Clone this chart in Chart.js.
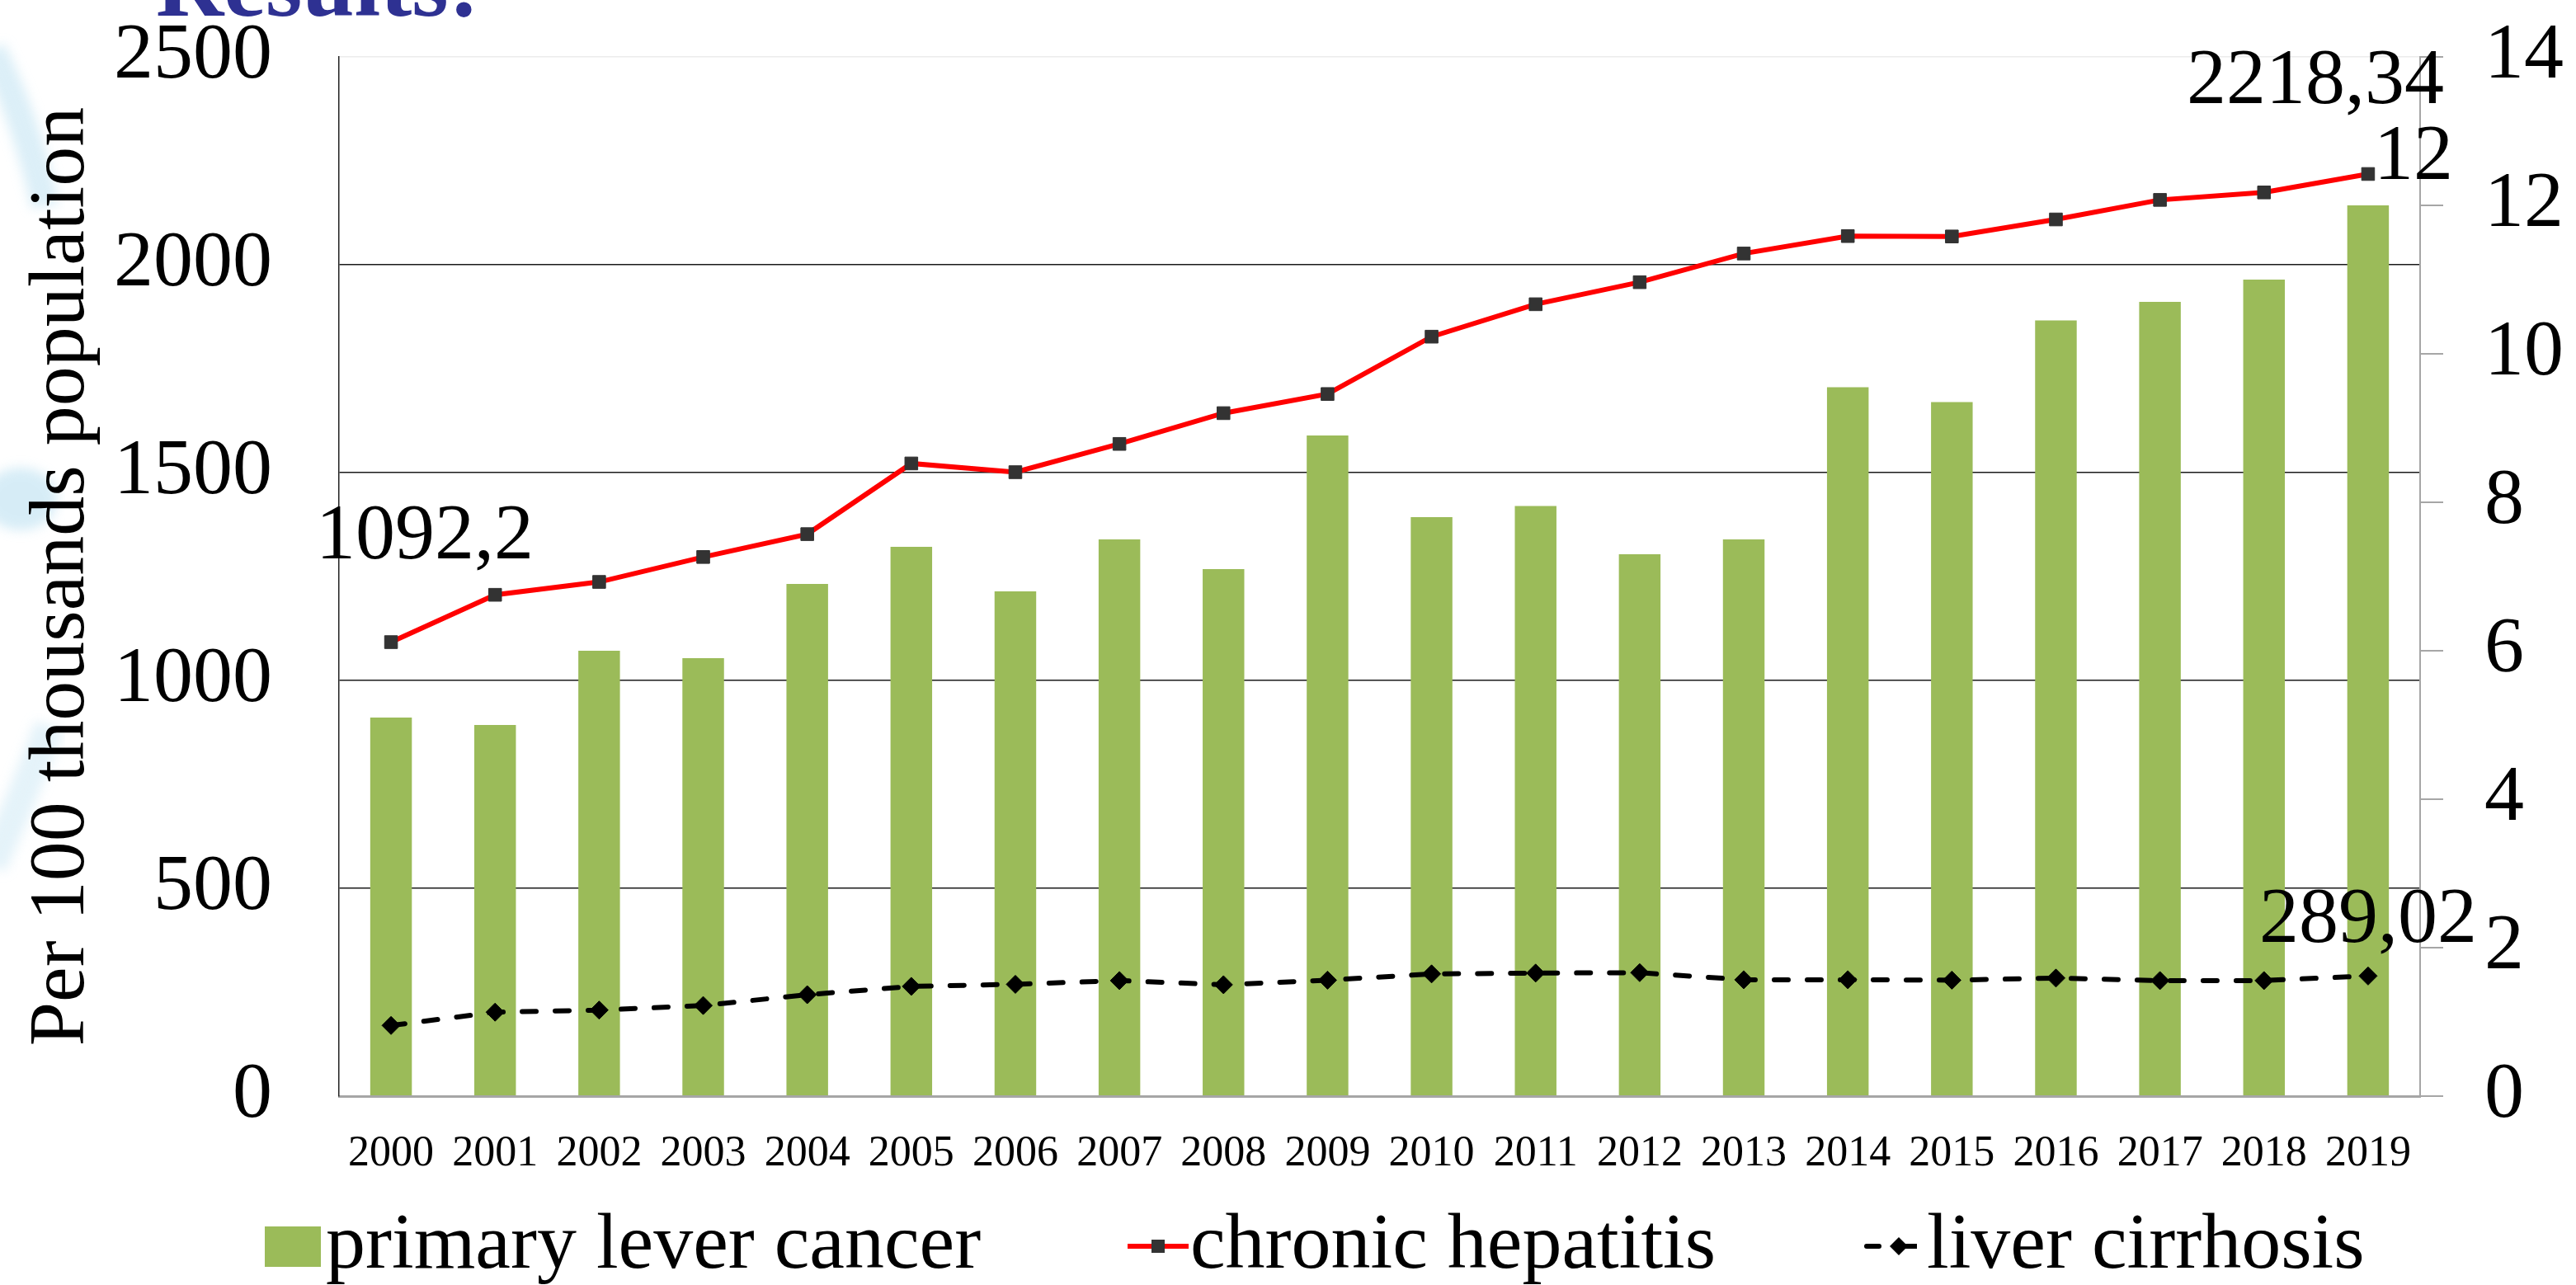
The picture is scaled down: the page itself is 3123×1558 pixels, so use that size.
<!DOCTYPE html>
<html>
<head>
<meta charset="utf-8">
<title>Results</title>
<script src="https://cdn.jsdelivr.net/npm/chart.js@4.4.1/dist/chart.umd.min.js"></script>
<style>
  html, body { margin:0; padding:0; background:#fff; overflow:hidden; }
  #wrap { position:relative; width:3123px; height:1558px; font-family:'Liberation Serif','Times New Roman',serif; }
  #chart { position:absolute; left:0; top:0; }
  .swoosh { position:absolute; left:0; top:0; }
  .heading { position:absolute; left:189px; top:-76px; font-size:114px; line-height:1; font-weight:bold; color:#2E3192; white-space:nowrap; }
  .lg { position:absolute; top:1457px; font-size:96px; line-height:1; color:#000; white-space:nowrap; }
  .ico { position:absolute; }
</style>
</head>
<body>
<div id="wrap">
  <svg class="swoosh" width="200" height="1200">
    <defs><filter id="bl"><feGaussianBlur stdDeviation="7"/></filter></defs>
    <g filter="url(#bl)" opacity="0.55">
      <path d="M-10 60 Q 30 140 55 250" stroke="#bfe2f2" stroke-width="34" fill="none"/>
      <ellipse cx="25" cy="605" rx="45" ry="38" fill="#b6def0"/>
      <path d="M-10 1050 Q 30 960 60 880" stroke="#cfe9f5" stroke-width="36" fill="none"/>
    </g>
  </svg>
  <canvas id="chart" width="3123" height="1558"></canvas>
  <div class="heading">Results:</div>

  <svg class="ico" style="left:321px;top:1487px" width="68" height="49"><rect width="68" height="49" fill="#9BBB59"/></svg>
  <div class="lg" style="left:395px">primary lever cancer</div>

  <svg class="ico" style="left:1367px;top:1495px" width="74" height="32">
    <line x1="0" y1="16" x2="74" y2="16" stroke="#FF0000" stroke-width="6"/>
    <rect x="29" y="8" width="16" height="16" fill="#333"/>
  </svg>
  <div class="lg" style="left:1443px">chronic hepatitis</div>

  <svg class="ico" style="left:2260px;top:1495px" width="66" height="32">
    <line x1="3" y1="16" x2="18" y2="16" stroke="#000" stroke-width="6" stroke-linecap="round"/>
    <line x1="40" y1="16" x2="64" y2="16" stroke="#000" stroke-width="6"/>
    <polygon points="42,5 53,16 42,27 31,16" fill="#000"/>
  </svg>
  <div class="lg" style="left:2336px">liver cirrhosis</div>
</div>
<script>
// chart data
const years = ['2000','2001','2002','2003','2004','2005','2006','2007','2008','2009',
               '2010','2011','2012','2013','2014','2015','2016','2017','2018','2019'];
const cancerRate = [5.1, 5.0, 6.0, 5.9, 6.9, 7.4, 6.8, 7.5, 7.1, 8.9,
                    7.8, 7.95, 7.3, 7.5, 9.55, 9.35, 10.45, 10.7, 11.0, 12];
const hepatitis = [1092.2, 1206, 1237, 1297, 1352, 1522, 1501, 1569, 1643, 1689,
                   1827, 1905, 1958, 2027, 2069, 2068, 2109, 2156, 2174, 2218.34];
const cirrhosis = [170, 202, 207, 218, 244, 264, 269, 278, 268, 279,
                   294, 296, 297, 280, 280, 279, 284, 278, 278, 289.02];
const leftTicks = [0, 500, 1000, 1500, 2000, 2500];
const rightTicks = [0, 2, 4, 6, 8, 10, 12, 14];

const serif = "'Liberation Serif','Times New Roman',serif";
const fmt = v => String(v).replace('.', ',');

// which points get a value label, and where it sits relative to the point
const valueLabels = [
  {ds: 1, i: 0,  align: 'center', dx: 41,  dy: -102},
  {ds: 1, i: 19, align: 'center', dx: -64, dy: -86},
  {ds: 0, i: 19, align: 'left',   dx: 7,   dy: -32},
  {ds: 2, i: 19, align: 'center', dx: 0,   dy: -41}
];

const labelPlugin = {
  id: 'valueLabels',
  afterDatasetsDraw(chart){
    const ctx = chart.ctx;
    ctx.save();
    ctx.font = '96px ' + serif;
    ctx.fillStyle = '#000';
    ctx.textBaseline = 'alphabetic';
    valueLabels.forEach(l=>{
      const el = chart.getDatasetMeta(l.ds).data[l.i];
      const v = chart.data.datasets[l.ds].data[l.i];
      ctx.textAlign = l.align;
      ctx.fillText(fmt(v), el.x + l.dx, el.y + l.dy);
    });
    ctx.restore();
  }
};

const ctx = document.getElementById('chart').getContext('2d');
new Chart(ctx, {
  type: 'bar',
  data: {
    labels: years,
    datasets: [
      {type:'bar', label:'primary lever cancer', data:cancerRate, yAxisID:'y1', order:3,
       backgroundColor:'#9BBB59', borderWidth:0, barPercentage:0.4, categoryPercentage:1},
      {type:'line', label:'chronic hepatitis', data:hepatitis, yAxisID:'y', order:2,
       borderColor:'#FF0000', borderWidth:6, tension:0, fill:false,
       pointStyle:'rect', pointRadius:11, pointBackgroundColor:'#333', pointBorderColor:'#333', pointBorderWidth:1},
      {type:'line', label:'liver cirrhosis', data:cirrhosis, yAxisID:'y', order:1,
       borderColor:'#000', borderWidth:6, borderDash:[17,23], borderCapStyle:'round', tension:0, fill:false,
       pointStyle:'rectRot', pointRadius:11, pointBackgroundColor:'#000', pointBorderColor:'#000', pointBorderWidth:1}
    ]
  },
  options: {
    responsive:false, animation:false, devicePixelRatio:1,
    layout:{ padding:{top:69, left:0, right:0, bottom:0} },
    plugins:{ legend:{display:false}, tooltip:{enabled:false} },
    scales:{
      x:{
        offset:true,
        grid:{display:false},
        border:{display:true, color:'#A6A6A6', width:3},
        ticks:{font:{family:serif, size:52}, color:'#000', padding:31, maxRotation:0, autoSkip:false},
        afterFit(s){ s.height = 229; }
      },
      y:{
        position:'left', min:0, max:2500,
        afterBuildTicks(s){ s.ticks = leftTicks.map(v=>({value:v})); },
        grid:{drawTicks:false, lineWidth:1.5,
              color:c=> c.tick.value === 0 ? 'rgba(0,0,0,0)' : (c.tick.value === 2500 ? '#ececec' : '#1a1a1a')},
        border:{display:true, color:'#222', width:1.5},
        ticks:{font:{family:serif, size:96}, color:'#000', padding:81, callback:v=>String(v)},
        title:{display:true, text:'Per 100 thousands population', font:{family:serif, size:96}, color:'#000', padding:{top:18, bottom:0}},
        afterFit(s){ s.width = 411; s.paddingTop = 0; s.paddingBottom = 0; }
      },
      y1:{
        position:'right', min:0, max:14,
        afterBuildTicks(s){ s.ticks = rightTicks.map(v=>({value:v})); },
        grid:{drawOnChartArea:false, drawTicks:true, tickLength:28, color:'#A6A6A6', lineWidth:2},
        border:{display:true, color:'#A6A6A6', width:2},
        ticks:{font:{family:serif, size:96}, color:'#000', padding:50, callback:v=>String(v)},
        afterFit(s){ s.width = 189; s.paddingTop = 0; s.paddingBottom = 0; }
      }
    }
  },
  plugins:[labelPlugin]
});
</script>
</body>
</html>
